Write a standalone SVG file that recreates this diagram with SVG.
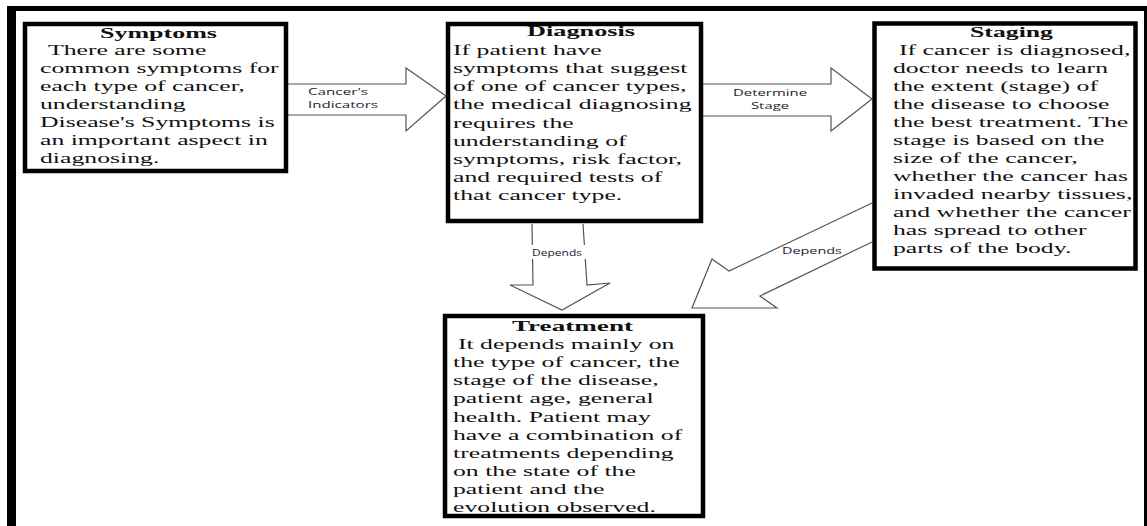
<svg xmlns="http://www.w3.org/2000/svg" width="1147" height="526" viewBox="0 0 1147 526">
<style>
.box{fill:#fff;stroke:#000;stroke-width:4.5}
.t{font-family:"Liberation Serif","Times New Roman",serif;font-size:15.5px;fill:#111}
.h{font-family:"Liberation Serif","Times New Roman",serif;font-size:15px;font-weight:bold;fill:#111}
.arr{fill:#fff;stroke:#555;stroke-width:1.2;stroke-linejoin:miter}
.lbl{font-family:"Open Sans","Liberation Sans",sans-serif;font-size:9.5px;fill:#1e2333}
</style>
<rect width="1147" height="526" fill="#fff"/>
<g id="frame">
<rect x="7" y="6" width="1140" height="5" fill="#000"/>
<rect x="7" y="6" width="9" height="520" fill="#000"/>
<rect x="1144" y="6" width="3" height="520" fill="#000"/>
</g>
<g id="connectors">
<polyline class="arr" points="288,84 406,84 406,68 446,96 406,131 406,115 288,115"/>
<text class="lbl" x="308" y="95" textLength="60" lengthAdjust="spacingAndGlyphs">Cancer's</text>
<text class="lbl" x="308" y="108" textLength="70" lengthAdjust="spacingAndGlyphs">Indicators</text>
<polyline class="arr" points="703,84 831,84 831,68 872,99 831,131 831,116 703,116"/>
<text class="lbl" x="733" y="96" textLength="74" lengthAdjust="spacingAndGlyphs">Determine</text>
<text class="lbl" x="751" y="108.5" textLength="38" lengthAdjust="spacingAndGlyphs">Stage</text>
<polyline class="arr" points="532,224 533,285 510,285 562,310 610,283 587,285 583,224"/>
<rect x="530" y="245" width="60" height="14" fill="#fff"/>
<text class="lbl" x="532" y="256" textLength="50" lengthAdjust="spacingAndGlyphs">Depends</text>
<polyline class="arr" points="872,203 729,271 712,259 692,308 777,308 760,296 872,242"/>
<text class="lbl" x="782" y="254" textLength="60" lengthAdjust="spacingAndGlyphs">Depends</text>
</g>
<g id="symptoms">
<rect class="box" x="25" y="24" width="261" height="147"/>
<text class="h" x="100" y="38" textLength="117" lengthAdjust="spacingAndGlyphs">Symptoms</text>
<g class="t" transform="matrix(1.66,0,0,1,40,0)">
<text x="4.8" y="55">There are some</text>
<text x="0" y="73">common symptoms for</text>
<text x="0" y="91">each type of cancer,</text>
<text x="0" y="109">understanding</text>
<text x="0" y="127">Disease's Symptoms is</text>
<text x="0" y="145">an important aspect in</text>
<text x="0" y="163">diagnosing.</text>
</g>
</g>
<g id="diagnosis">
<rect class="box" x="448" y="24" width="253" height="197"/>
<text class="h" x="527" y="35.5" textLength="108" lengthAdjust="spacingAndGlyphs">Diagnosis</text>
<g class="t" transform="matrix(1.66,0,0,1,453,0)">
<text x="0" y="55">If patient have</text>
<text x="0" y="73">symptoms that suggest</text>
<text x="0" y="91">of one of cancer types,</text>
<text x="0" y="109">the medical diagnosing</text>
<text x="0" y="128">requires the</text>
<text x="0" y="146">understanding of</text>
<text x="0" y="164">symptoms, risk factor,</text>
<text x="0" y="182">and required tests of</text>
<text x="0" y="200">that cancer type.</text>
</g>
</g>
<g id="staging">
<rect class="box" x="874.5" y="23.5" width="261" height="245"/>
<text class="h" x="970" y="37" textLength="83" lengthAdjust="spacingAndGlyphs">Staging</text>
<g class="t" transform="matrix(1.66,0,0,1,893,0)">
<text x="3.6" y="55">If cancer is diagnosed,</text>
<text x="0" y="73">doctor needs to learn</text>
<text x="0" y="91">the extent (stage) of</text>
<text x="0" y="109">the disease to choose</text>
<text x="0" y="127">the best treatment. The</text>
<text x="0" y="145">stage is based on the</text>
<text x="0" y="163">size of the cancer,</text>
<text x="0" y="181">whether the cancer has</text>
<text x="0" y="199">invaded nearby tissues,</text>
<text x="0" y="217">and whether the cancer</text>
<text x="0" y="235">has spread to other</text>
<text x="0" y="253">parts of the body.</text>
</g>
</g>
<g id="treatment">
<rect class="box" x="445" y="316" width="258" height="200"/>
<text class="h" x="512" y="331" textLength="121" lengthAdjust="spacingAndGlyphs">Treatment</text>
<g class="t" transform="matrix(1.66,0,0,1,453,0)">
<text x="3" y="349">It depends mainly on</text>
<text x="0" y="367">the type of cancer, the</text>
<text x="0" y="385">stage of the disease,</text>
<text x="0" y="403">patient age, general</text>
<text x="0" y="422">health. Patient may</text>
<text x="0" y="440">have a combination of</text>
<text x="0" y="458">treatments depending</text>
<text x="0" y="476">on the state of the</text>
<text x="0" y="494">patient and the</text>
<text x="0" y="512">evolution observed.</text>
</g>
</g>
</svg>
